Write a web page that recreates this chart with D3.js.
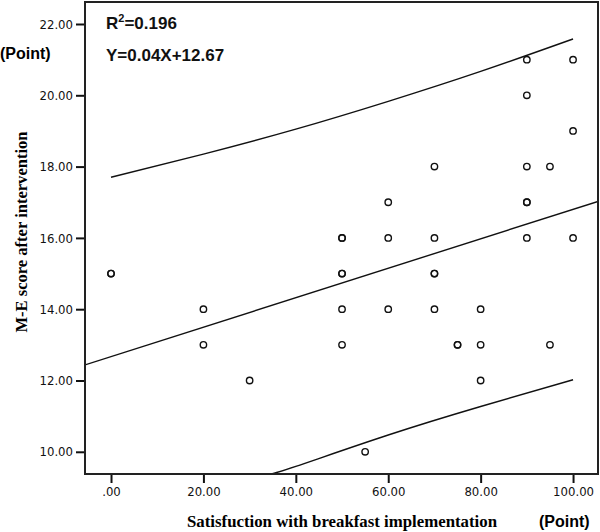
<!DOCTYPE html>
<html>
<head>
<meta charset="utf-8">
<script src="https://cdn.jsdelivr.net/npm/d3@7"></script>
<style>
  body { margin: 0; background: #fff; }
  svg { display: block; }
  .tick text { font-family: "DejaVu Sans Condensed", "DejaVu Sans", sans-serif; font-size: 13px; fill: #111; }
  .tick line { stroke: #111; stroke-width: 2; }
</style>
</head>
<body>
<div id="chart"></div>
<script>
// satisfaction score (x) and M-E score after intervention (y)
const satisfaction = [0, 0, 20, 20, 30, 50, 50, 50, 50, 50, 50, 55, 60, 60, 60, 70, 70, 70, 70, 70, 75, 75, 80, 80, 80, 90, 90, 90, 90, 90, 90, 95, 95, 100, 100, 100];
const meScore = [15, 15, 14, 13, 12, 16, 16, 15, 15, 14, 13, 10, 17, 16, 14, 18, 16, 15, 15, 14, 13, 13, 14, 13, 12, 21, 20, 18, 17, 17, 16, 18, 13, 21, 19, 16];

// fit line and 95% individual prediction bounds
const regIntercept = 12.67;
const regSlope = 0.0413;
const upperX = [0, 20, 40, 60, 80, 100];
const upperY = [17.7, 18.35, 19.05, 19.83, 20.67, 21.58];
const lowerX = [34.6, 40, 60, 80, 100];
const lowerY = [9.38, 9.59, 10.47, 11.27, 12.02];

const xTicks = [0, 20, 40, 60, 80, 100];
const xTickLabels = [".00", "20.00", "40.00", "60.00", "80.00", "100.00"];
const yTicks = [10, 12, 14, 16, 18, 20, 22];
const yTickLabels = ["10.00", "12.00", "14.00", "16.00", "18.00", "20.00", "22.00"];

const width = 600;
const height = 532;
const plot = { left: 85, right: 598, top: 2, bottom: 474 };

const svg = d3.select("#chart")
  .append("svg")
  .attr("width", width)
  .attr("height", height);

const x = d3.scaleLinear().domain([-5.63, 105.4]).range([plot.left, plot.right]);
const y = d3.scaleLinear().domain([9.377, 22.617]).range([plot.bottom, plot.top]);

// axes
svg.append("g")
  .attr("transform", `translate(${plot.left},0)`)
  .call(d3.axisLeft(y).tickValues(yTicks).tickSize(9).tickPadding(3)
    .tickFormat((d, i) => yTickLabels[i]))
  .call(g => g.select(".domain").remove());

svg.append("g")
  .attr("transform", `translate(0,${plot.bottom})`)
  .call(d3.axisBottom(x).tickValues(xTicks).tickSize(9).tickPadding(4)
    .tickFormat((d, i) => xTickLabels[i]))
  .call(g => g.select(".domain").remove());

svg.append("clipPath")
  .attr("id", "clip")
  .append("rect")
  .attr("x", plot.left)
  .attr("y", plot.top)
  .attr("width", plot.right - plot.left)
  .attr("height", plot.bottom - plot.top);

const lines = svg.append("g").attr("clip-path", "url(#clip)");

// regression line across the whole frame
const xDom = x.domain();
lines.append("line")
  .attr("x1", x(xDom[0]))
  .attr("y1", y(regIntercept + regSlope * xDom[0]))
  .attr("x2", x(xDom[1]))
  .attr("y2", y(regIntercept + regSlope * xDom[1]))
  .attr("stroke", "#111")
  .attr("stroke-width", 1.4);

const curve = d3.line()
  .x(d => x(d[0]))
  .y(d => y(d[1]))
  .curve(d3.curveNatural);

lines.append("path")
  .attr("d", curve(d3.zip(upperX, upperY)))
  .attr("fill", "none")
  .attr("stroke", "#111")
  .attr("stroke-width", 1.4);

lines.append("path")
  .attr("d", curve(d3.zip(lowerX, lowerY)))
  .attr("fill", "none")
  .attr("stroke", "#111")
  .attr("stroke-width", 1.4);

// points
svg.append("g")
  .selectAll("circle")
  .data(d3.zip(satisfaction, meScore))
  .enter()
  .append("circle")
  .attr("cx", d => x(d[0]))
  .attr("cy", d => y(d[1]))
  .attr("r", 3.2)
  .attr("fill", "none")
  .attr("stroke", "#111")
  .attr("stroke-width", 1.4);

// frame
svg.append("rect")
  .attr("x", plot.left)
  .attr("y", plot.top)
  .attr("width", plot.right - plot.left)
  .attr("height", plot.bottom - plot.top)
  .attr("fill", "none")
  .attr("stroke", "#222")
  .attr("stroke-width", 2);

// fit annotation
const note = svg.append("g")
  .style("font-family", "'Liberation Sans', Arial, sans-serif")
  .style("font-weight", "bold")
  .style("font-size", "17px")
  .attr("fill", "#111");

const r2 = note.append("text").attr("x", 106).attr("y", 29);
r2.append("tspan").text("R");
r2.append("tspan").attr("dy", -7).style("font-size", "11px").text("2");
r2.append("tspan").attr("dy", 7).text("=0.196");

note.append("text").attr("x", 106).attr("y", 61).text("Y=0.04X+12.67");

// axis titles
svg.append("text")
  .attr("transform", "translate(27,232) rotate(-90)")
  .attr("text-anchor", "middle")
  .attr("textLength", 201)
  .attr("lengthAdjust", "spacingAndGlyphs")
  .style("font-family", "'Liberation Serif', 'Times New Roman', serif")
  .style("font-weight", "bold")
  .style("font-size", "17px")
  .text("M-E score after intervention");

svg.append("text")
  .attr("x", 187)
  .attr("y", 527)
  .attr("textLength", 310)
  .attr("lengthAdjust", "spacingAndGlyphs")
  .style("font-family", "'Liberation Serif', 'Times New Roman', serif")
  .style("font-weight", "bold")
  .style("font-size", "17px")
  .text("Satisfuction with breakfast implementation");

svg.append("text")
  .attr("x", 539)
  .attr("y", 527)
  .style("font-family", "'Liberation Sans', Arial, sans-serif")
  .style("font-weight", "bold")
  .style("font-size", "16px")
  .text("(Point)");

svg.append("text")
  .attr("x", 0)
  .attr("y", 59)
  .style("font-family", "'Liberation Sans', Arial, sans-serif")
  .style("font-weight", "bold")
  .style("font-size", "16px")
  .text("(Point)");
</script>
</body>
</html>
